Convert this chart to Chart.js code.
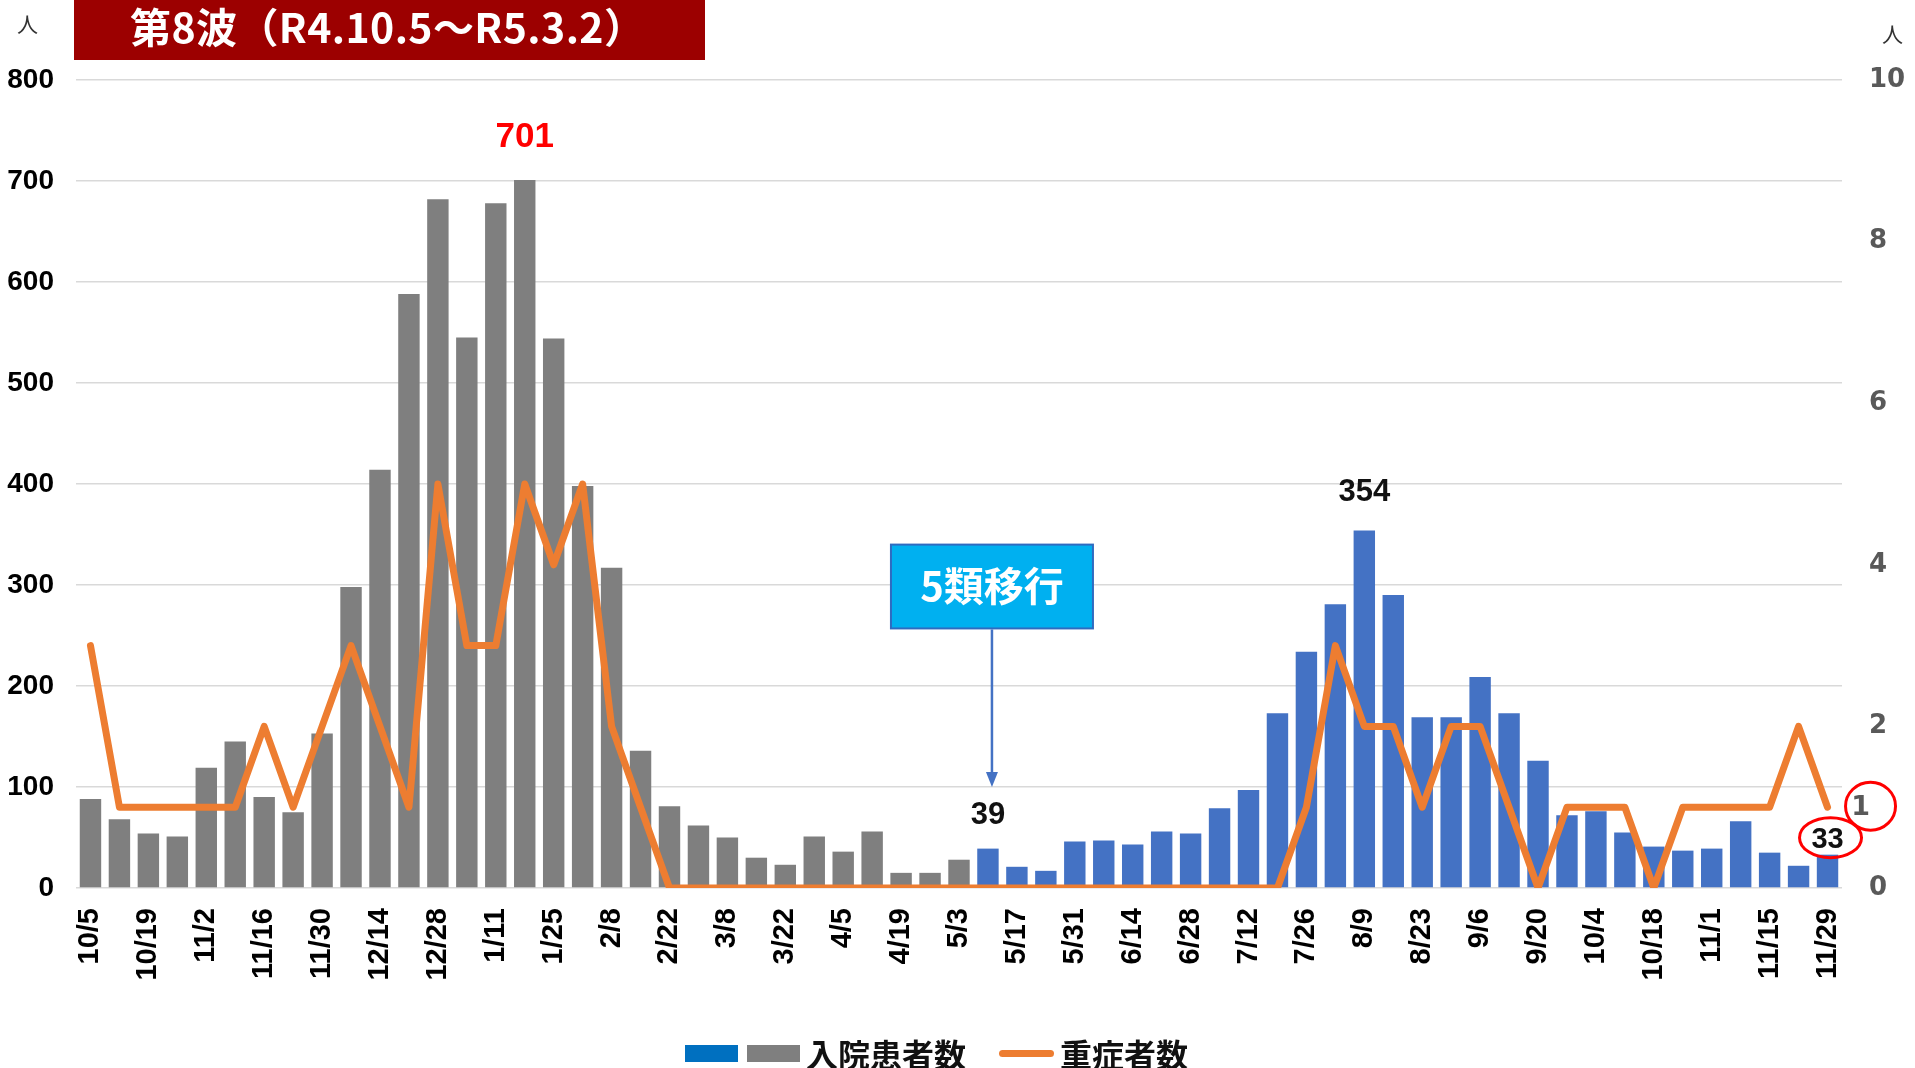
<!DOCTYPE html>
<html lang="ja">
<head>
<meta charset="utf-8">
<script src="https://cdn.jsdelivr.net/npm/chart.js@4.4.1/dist/chart.umd.min.js"></script>
<style>
html, body { margin: 0; padding: 0; background: #fff; }
#wrap { position: relative; width: 1915px; height: 1068px; overflow: hidden; font-family: "Noto Sans CJK JP", sans-serif; }
#chart { position: absolute; left: 0; top: 0; }
#title { position: absolute; left: 74px; top: 0; width: 631px; height: 60px; background: #9C0000; color: #fff;
  font-weight: 700; font-size: 41px; line-height: 50px; padding-left: 56px; box-sizing: border-box; white-space: nowrap; letter-spacing: 0.4px; }
.unit { position: absolute; font-size: 21px; color: #333; }
#legend { position: absolute; top: 1033px; left: 685px; height: 40px; display: flex; align-items: center;
  font-weight: 700; font-size: 32px; color: #111; white-space: nowrap; }
.sw { display: inline-block; width: 53px; height: 17px; margin-right: 9px; }
.ln { display: inline-block; width: 55px; height: 7px; border-radius: 4px; background: #ED7D31; margin: 0 6px 0 33px; }
</style>
</head>
<body>
<div id="wrap">
  <canvas id="chart" width="1915" height="1068"></canvas>
  <div id="title">第8波（R4.10.5～R5.3.2）</div>
  <div class="unit" style="left:17px;top:8px;">人</div>
  <div class="unit" style="left:1882px;top:18px;">人</div>
  <div id="legend">
    <span class="sw" style="background:#0070C0"></span><span class="sw" style="background:#7F7F7F;margin-right:6px"></span><span>入院患者数</span>
    <span class="ln"></span><span>重症者数</span>
  </div>
</div>
<script>
// weekly dates (R4.10.5 - R5.11.29)
const weeks = ['10/5','10/12','10/19','10/26','11/2','11/9','11/16','11/23','11/30','12/7','12/14','12/21','12/28',
  '1/4','1/11','1/18','1/25','2/1','2/8','2/15','2/22','3/1','3/8','3/15','3/22','3/29','4/5','4/12','4/19','4/26',
  '5/3','5/10','5/17','5/24','5/31','6/7','6/14','6/21','6/28','7/5','7/12','7/19','7/26','8/2','8/9','8/16','8/23',
  '8/30','9/6','9/13','9/20','9/27','10/4','10/11','10/18','10/25','11/1','11/8','11/15','11/22','11/29'];

// 入院患者数
const inpatients = [88,68,54,51,119,145,90,75,153,298,414,588,682,545,678,701,544,398,317,136,
  81,62,50,30,23,51,36,56,15,15,28,39,21,17,46,47,43,56,54,79,
  97,173,234,281,354,290,169,169,209,173,126,72,76,55,41,37,39,66,35,22,33];

// 重症者数
const severe = [3,1,1,1,1,1,2,1,2,3,2,1,5,3,3,5,4,5,2,1,
  0,0,0,0,0,0,0,0,0,0,0,0,0,0,0,0,0,0,0,0,0,0,
  1,3,2,2,1,2,2,1,0,1,1,1,0,1,1,1,1,2,1];

const leftTicks = [0,100,200,300,400,500,600,700,800];
const rightTicks = [0,2,4,6,8,10];

// from 5/10 on (5類移行) bars are blue
const shiftIndex = 31;
const barColors = inpatients.map((v, i) => i < shiftIndex ? '#7F7F7F' : '#4472C4');

function drawText(ctx, str, x, y, font, color) {
  ctx.save();
  ctx.font = font;
  ctx.fillStyle = color;
  ctx.textAlign = 'center';
  ctx.textBaseline = 'middle';
  ctx.fillText(str, x, y);
  ctx.restore();
}

function ellipse(ctx, cx, cy, rx, ry) {
  ctx.save();
  ctx.beginPath();
  ctx.ellipse(cx, cy, rx, ry, 0, 0, Math.PI * 2);
  ctx.strokeStyle = '#FF0000';
  ctx.lineWidth = 3;
  ctx.stroke();
  ctx.restore();
}

const notes = {
  id: 'notes',
  afterDatasetsDraw(chart) {
    const { ctx } = chart;
    const x = chart.scales.x, y = chart.scales.y;
    const bars = chart.getDatasetMeta(0).data;
    const pts = chart.getDatasetMeta(1).data;
    const num = 'bold 31px "Liberation Sans", Arial, sans-serif';

    // peak values
    drawText(ctx, String(inpatients[15]), bars[15].x, bars[15].y - 43, 'bold 35px "Liberation Sans", Arial, sans-serif', '#FF0000');
    drawText(ctx, String(inpatients[44]), bars[44].x, bars[44].y - 38, num, '#111');
    drawText(ctx, String(inpatients[31]), bars[31].x, bars[31].y - 33, num, '#111');

    // last week
    const last = inpatients.length - 1;
    drawText(ctx, String(inpatients[last]), bars[last].x, bars[last].y - 15, 'bold 29px "Liberation Sans", Arial, sans-serif', '#111');
    ellipse(ctx, bars[last].x + 3, bars[last].y - 17, 31, 20);
    const p = pts[last];
    drawText(ctx, String(severe[last]), p.x + 33, p.y + 1, 'bold 27px "DejaVu Sans", sans-serif', '#595959');
    ellipse(ctx, p.x + 43, p.y - 1, 25, 24);

    // 5類移行 callout
    const cx = x.getPixelForValue(shiftIndex) + 4;
    const top = y.getPixelForValue(340), bottom = y.getPixelForValue(257);
    const w = 202;
    ctx.save();
    ctx.fillStyle = '#00B0F0';
    ctx.strokeStyle = '#2F6BC0';
    ctx.lineWidth = 2;
    ctx.fillRect(cx - w / 2, top, w, bottom - top);
    ctx.strokeRect(cx - w / 2, top, w, bottom - top);
    ctx.restore();
    drawText(ctx, '5類移行', cx, (top + bottom) / 2 - 1, 'bold 40px "Noto Sans CJK JP", sans-serif', '#fff');

    const tip = y.getPixelForValue(100);
    ctx.save();
    ctx.strokeStyle = '#4472C4';
    ctx.fillStyle = '#4472C4';
    ctx.lineWidth = 2.5;
    ctx.beginPath();
    ctx.moveTo(cx, bottom + 1);
    ctx.lineTo(cx, tip - 12);
    ctx.stroke();
    ctx.beginPath();
    ctx.moveTo(cx, tip);
    ctx.lineTo(cx - 6, tip - 15);
    ctx.lineTo(cx + 6, tip - 15);
    ctx.closePath();
    ctx.fill();
    ctx.restore();
  }
};

Chart.defaults.font.family = '"Liberation Sans", Arial, sans-serif';

new Chart(document.getElementById('chart'), {
  plugins: [notes],
  data: {
    labels: weeks,
    datasets: [
      {
        type: 'bar',
        label: '入院患者数',
        data: inpatients,
        backgroundColor: barColors,
        yAxisID: 'y',
        categoryPercentage: 1,
        barPercentage: 0.74,
        order: 1
      },
      {
        type: 'line',
        label: '重症者数',
        data: severe,
        borderColor: '#ED7D31',
        borderWidth: 7,
        pointRadius: 0,
        tension: 0,
        borderJoinStyle: 'round',
        borderCapStyle: 'round',
        yAxisID: 'y1',
        order: 0
      }
    ]
  },
  options: {
    responsive: false,
    animation: false,
    layout: { padding: { top: 80, left: 0, right: 0, bottom: 0 } },
    plugins: { legend: { display: false }, tooltip: { enabled: false } },
    scales: {
      x: {
        grid: { display: false },
        border: { display: false },
        afterFit: (s) => { s.height = 180; },
        ticks: {
          autoSkip: false,
          maxRotation: 90,
          minRotation: 90,
          padding: 12,
          color: '#000',
          font: { size: 29, weight: 'bold' },
          callback: (v, i) => i % 2 === 0 ? weeks[i] : ''
        }
      },
      y: {
        position: 'left',
        min: 0,
        max: 800,
        afterFit: (s) => { s.width = 76; },
        afterBuildTicks: (s) => { s.ticks = leftTicks.map(v => ({ value: v })); },
        grid: { color: '#D9D9D9', lineWidth: 1.5, drawTicks: false },
        border: { display: false },
        ticks: { padding: 22, color: '#000', font: { size: 28, weight: 'bold' } }
      },
      y1: {
        position: 'right',
        min: 0,
        max: 10,
        afterFit: (s) => { s.width = 73; },
        afterBuildTicks: (s) => { s.ticks = rightTicks.map(v => ({ value: v })); },
        grid: { display: false, drawTicks: false },
        border: { display: false },
        ticks: { padding: 27, color: '#595959', font: { family: '"DejaVu Sans", sans-serif', size: 26, weight: 'bold' } }
      }
    }
  }
});
</script>
</body>
</html>
